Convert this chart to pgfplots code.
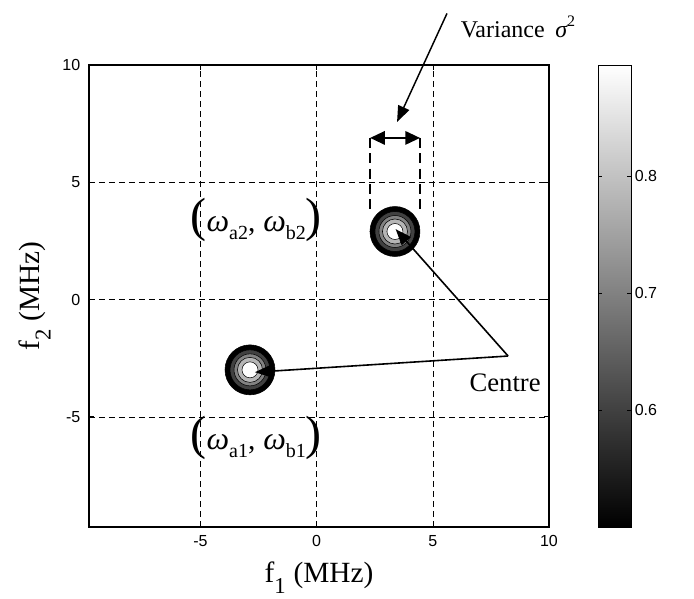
\documentclass[border=0pt]{standalone}
\usepackage{fontspec}
\setmainfont{Liberation Serif}
\setsansfont{Liberation Sans}
\usepackage{pgfplots}
\pgfplotsset{compat=1.18}
\usetikzlibrary{arrows.meta}
\begin{document}
\begin{tikzpicture}
\path[use as bounding box] (-66.75pt,-54pt) rectangle (453.75pt,395.25pt);
\begin{axis}[
  at={(0,0)}, anchor=south west,
  scale only axis, width=345pt, height=346.5pt,
  xmin=-9.8, xmax=10, ymin=-9.7, ymax=10,
  xtick={-5,0,5,10}, ytick={-5,0,5,10},
  grid=major,
  grid style={black, line width=0.4pt, dash pattern=on 4.5pt off 3pt},
  tick align=inside, major tick length=4pt,
  axis line style={line width=0.8pt},
  tick style={black, line width=0.5pt},
  ticklabel style={font=\sffamily\fontsize{12}{12}\selectfont},
  /pgf/number format/assume math mode=true,
  xticklabel style={yshift=-3pt},
  yticklabel style={xshift=-3pt},
  clip=false,
  xlabel={f\raisebox{-8pt}{\fontsize{17}{17}\selectfont 1}\hspace{6pt}(MHz)},
  ylabel={f\raisebox{-8pt}{\fontsize{17}{17}\selectfont 2}\hspace{6pt}(MHz)},
  xlabel style={at={(axis description cs:0.5,0)}, anchor=base, yshift=-42pt, font=\fontsize{22}{22}\selectfont},
  ylabel style={at={(axis description cs:0,0.5)}, anchor=base, yshift=36.75pt, font=\fontsize{22}{22}\selectfont},
  colormap={mygray}{gray(0cm)=(0); gray(1cm)=(1)},
  point meta min=0.5, point meta max=0.895,
  colorbar,
  colorbar/width=24.75pt,
  colorbar style={
    at={(parent axis.north east)}, anchor=north west,
    xshift=28.5pt,
    ytick={0.6,0.7,0.8},
    yticklabel pos=right,
    ytick pos=both,
    tick align=inside, major tick length=3pt,
    tick style={black, line width=0.4pt},
    axis line style={line width=0.6pt},
    yticklabel style={font=\sffamily\fontsize{12}{12}\selectfont, xshift=-1pt},
    /pgf/number format/assume math mode=true,
    /pgf/number format/fixed,
    /pgf/number format/precision=1,
  },
  ring/.style={scatter, only marks, mark=*, point meta=explicit,
    scatter/use mapped color={draw=black, fill=mapped color},
    mark options={line width=0.4pt}},
]
\addplot[ring, mark size=18.75pt] coordinates {(3.37,2.9) [0.5] (-2.87,-3.0) [0.5]};
\addplot[ring, mark size=15pt] coordinates {(3.37,2.9) [0.6] (-2.87,-3.0) [0.6]};
\addplot[ring, mark size=12pt] coordinates {(3.37,2.9) [0.7] (-2.87,-3.0) [0.7]};
\addplot[ring, mark size=9.4pt] coordinates {(3.37,2.9) [0.78] (-2.87,-3.0) [0.78]};
\addplot[ring, mark size=6pt] coordinates {(3.37,2.9) [0.89] (-2.87,-3.0) [0.89]};

\coordinate (vA) at (axis cs:5.61,12.2);
\coordinate (vB) at (axis cs:3.46,7.57);
\coordinate (dL) at (axis cs:2.30,6.89);
\coordinate (dR) at (axis cs:4.45,6.89);
\coordinate (dLb) at (axis cs:2.30,3.8);
\coordinate (dRb) at (axis cs:4.45,3.8);
\coordinate (cV) at (axis cs:8.24,-2.41);
\coordinate (c2) at (axis cs:3.4,3.0);
\coordinate (c1) at (axis cs:-2.66,-3.1);

\node[anchor=base, font=\fontsize{20}{20}\selectfont] at (axis cs:8.11,-3.94) {Centre};
\node[anchor=base west, font=\fontsize{18}{18}\selectfont] at (axis cs:6.0,11.19) {Variance\hspace{8pt}{\itshape σ}\raisebox{8pt}{\fontsize{12}{12}\selectfont 2}};
\node[inner sep=0pt] at (axis cs:-2.6,3.39) {{\fontsize{36}{36}\selectfont(}{\fontsize{24}{24}\selectfont\itshape ω}\raisebox{-6pt}{\fontsize{15}{15}\selectfont a2}{\fontsize{22}{22}\selectfont,}\hspace{6pt}{\fontsize{24}{24}\selectfont\itshape ω}\raisebox{-6pt}{\fontsize{15}{15}\selectfont b2}{\fontsize{36}{36}\selectfont)}};
\node[inner sep=0pt] at (axis cs:-2.6,-5.9) {{\fontsize{36}{36}\selectfont(}{\fontsize{24}{24}\selectfont\itshape ω}\raisebox{-6pt}{\fontsize{15}{15}\selectfont a1}{\fontsize{22}{22}\selectfont,}\hspace{6pt}{\fontsize{24}{24}\selectfont\itshape ω}\raisebox{-6pt}{\fontsize{15}{15}\selectfont b1}{\fontsize{36}{36}\selectfont)}};
\end{axis}
\draw[line width=1.1pt, -{Triangle[length=12pt,width=9pt]}] (vA) -- (vB);
\draw[line width=1.5pt, {Triangle[length=11pt,width=10pt]}-{Triangle[length=11pt,width=10pt]}] (dL) -- (dR);
\draw[line width=1.5pt, dash pattern=on 7.5pt off 4pt] (dL) -- (dLb);
\draw[line width=1.5pt, dash pattern=on 7.5pt off 4pt] (dR) -- (dRb);
\draw[line width=1.2pt, -{Triangle[length=12pt,width=9pt]}] (cV) -- (c2);
\draw[line width=1.2pt, -{Triangle[length=12pt,width=9pt]}] (cV) -- (c1);
\end{tikzpicture}
\end{document}
